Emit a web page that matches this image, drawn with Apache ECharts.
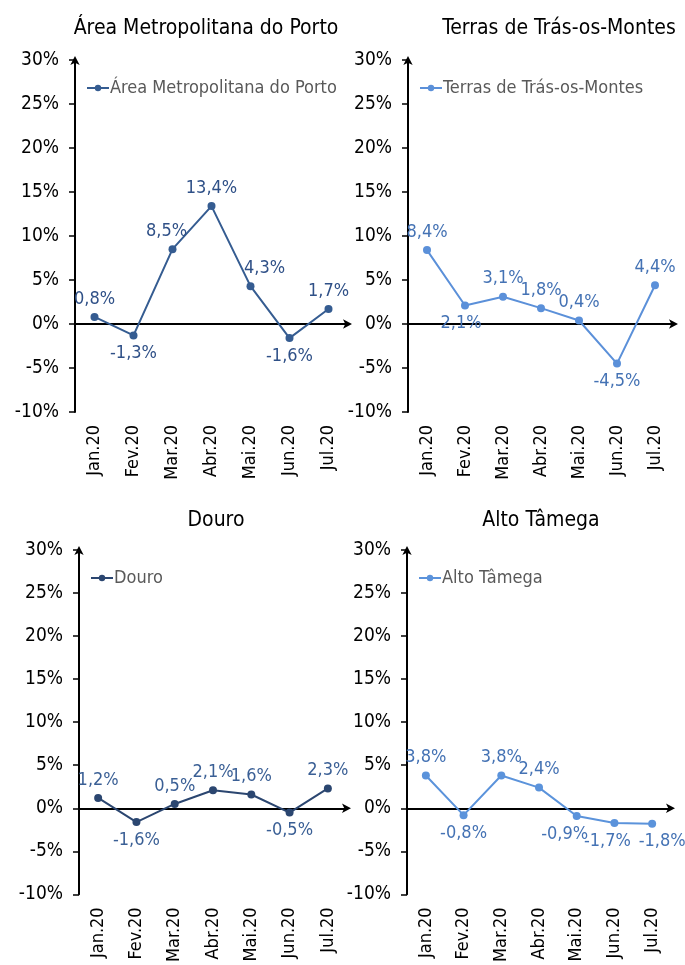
<!DOCTYPE html>
<html>
<head>
<meta charset="utf-8">
<script src="https://cdn.jsdelivr.net/npm/echarts@6/dist/echarts.min.js"></script>
<style>
  body { margin: 0; background: #fff; }
  #main { width: 685px; height: 965px; }
</style>
</head>
<body>
<div id="main"></div>
<script>
// months on the x axis
var months = ['Jan.20', 'Fev.20', 'Mar.20', 'Abr.20', 'Mai.20', 'Jun.20', 'Jul.20'];
var yTicks = [-10, -5, 0, 5, 10, 15, 20, 25, 30];

// values in %
var amp    = [0.8, -1.3, 8.5, 13.4, 4.3, -1.6, 1.7];
var terras = [8.4, 2.1, 3.1, 1.8, 0.4, -4.5, 4.4];
var douro  = [1.2, -1.6, 0.5, 2.1, 1.6, -0.5, 2.3];
var alto   = [3.8, -0.8, 3.8, 2.4, -0.9, -1.7, -1.8];

var FONT = '"DejaVu Sans Condensed", sans-serif';

var panels = [
  {name: 'Área Metropolitana do Porto', data: amp, line: '#355C91', lbl: '#2F5087',
   grid: {left: 75, top: 60, width: 273, height: 352}, tx: 201, ty: 13, below: [1, 5]},
  {name: 'Terras de Trás-os-Montes', data: terras, line: '#5B90D9', lbl: '#4472B4',
   grid: {left: 408, top: 60, width: 266, height: 352}, tx: 554, ty: 13, below: [1, 5]},
  {name: 'Douro', data: douro, line: '#2B4670', lbl: '#3A5F95',
   grid: {left: 79, top: 550, width: 268, height: 353}, tx: 211, ty: 505, below: [1, 5]},
  {name: 'Alto Tâmega', data: alto, line: '#5B93DB', lbl: '#4472B4',
   grid: {left: 407, top: 550, width: 264, height: 353}, tx: 536, ty: 505, below: [1, 4, 5, 6]}
];

// small nudges so neighbouring labels don't collide
var nudge = {
  '0-2': [-6, 0], '0-4': [14, 0],
  '1-1': [-4, 0],
  '3-4': [-12, 0], '3-5': [-7, 0], '3-6': [10, 0]
};

function fmt(v) { return v.toFixed(1).replace('.', ',') + '%'; }

var option = {
  animation: false,
  textStyle: {fontFamily: FONT},
  title: [], legend: [], grid: [], xAxis: [], yAxis: [], series: []
};

panels.forEach(function (p, i) {
  option.title.push({
    text: p.name, left: p.tx, top: p.ty, textAlign: 'center',
    textStyle: {fontFamily: FONT, fontSize: 21, fontWeight: 'normal', color: '#000'}
  });
  option.grid.push(p.grid);
  option.legend.push({
    data: [p.name], left: p.grid.left + 6, top: p.grid.top + 14,
    itemWidth: 22, itemHeight: 8, itemGap: 2,
    textStyle: {fontFamily: FONT, fontSize: 18, color: '#595959', padding: [0, 0, 0, -4]}
  });
  // axis line through zero
  option.xAxis.push({
    type: 'category', gridIndex: i, data: months,
    axisLine: {onZero: true, lineStyle: {color: '#000', width: 2}, symbol: ['none', 'arrow'], symbolSize: [7, 9], symbolOffset: [0, 4]},
    axisTick: {alignWithLabel: true, length: 6, lineStyle: {color: '#000', width: 1.5}},
    axisLabel: {show: false}
  });
  // labels at bottom
  option.xAxis.push({
    type: 'category', gridIndex: i, data: months, position: 'bottom',
    axisLine: {show: false, onZero: false}, axisTick: {show: false},
    axisLabel: {rotate: 90, margin: 13, fontSize: 18, color: '#000', fontFamily: FONT}
  });
  option.yAxis.push({
    type: 'value', gridIndex: i, min: yTicks[0], max: yTicks[yTicks.length - 1], interval: 5,
    splitLine: {show: false},
    axisLine: {show: true, lineStyle: {color: '#000', width: 2}, symbol: ['none', 'arrow'], symbolSize: [7, 9], symbolOffset: [0, 4]},
    axisTick: {show: true, length: 6, lineStyle: {color: '#000', width: 1.5}},
    axisLabel: {margin: 16, fontSize: 19, color: '#000', fontFamily: FONT, formatter: '{value}%'}
  });
  option.series.push({
    name: p.name, type: 'line', xAxisIndex: i * 2, yAxisIndex: i,
    symbol: 'circle', symbolSize: 8,
    lineStyle: {color: p.line, width: 2}, itemStyle: {color: p.line},
    data: p.data.map(function (v, k) {
      return {value: v, label: {
        position: p.below.indexOf(k) >= 0 ? 'bottom' : 'top',
        offset: nudge[i + '-' + k] || [0, 0]
      }};
    }),
    label: {
      show: true, distance: 5, fontSize: 18, color: p.lbl, fontFamily: FONT,
      formatter: function (d) { return fmt(d.value); }
    }
  });
});

var chart = echarts.init(document.getElementById('main'));
chart.setOption(option);
</script>
</body>
</html>
